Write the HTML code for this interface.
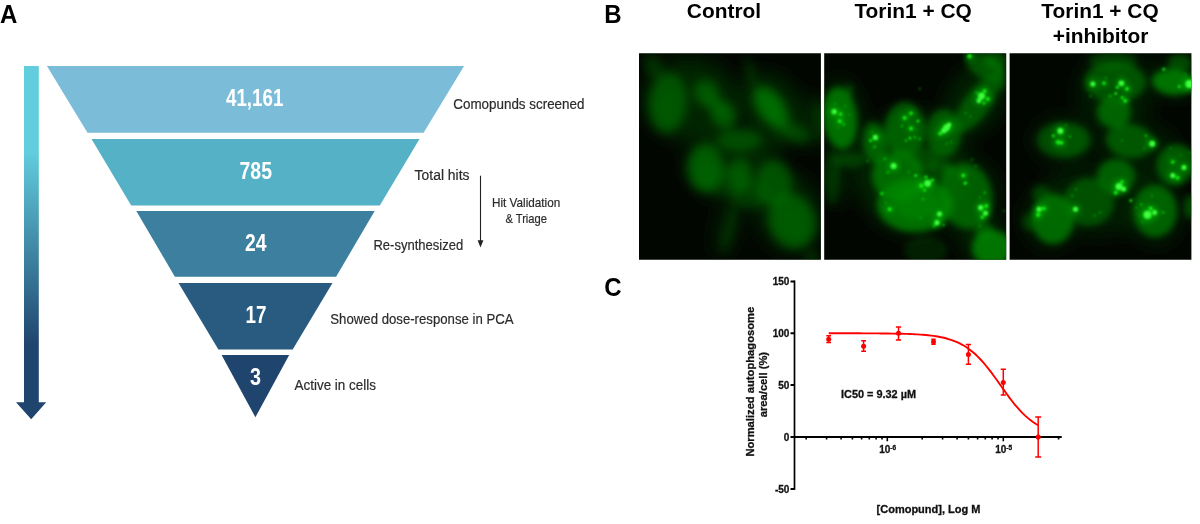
<!DOCTYPE html>
<html lang="en"><head><meta charset="utf-8"><title>Figure</title>
<style>
html,body{margin:0;padding:0;background:#fff}
svg{display:block}
text{font-family:"Liberation Sans",Arial,Helvetica,sans-serif}
.b{font-weight:bold}
.ct{font-weight:bold;fill:#111;stroke:#111;stroke-width:0.3px}
.lab{fill:#2b2b2b;stroke:#2b2b2b;stroke-width:0.2px}
.num{fill:#fff;font-weight:bold;text-anchor:middle}
</style></head><body>
<svg width="1200" height="524" viewBox="0 0 1200 524">
<defs>
<linearGradient id="bar" x1="0" y1="0" x2="0" y2="1">
<stop offset="0" stop-color="#62cedd"/><stop offset="0.24" stop-color="#62cedd"/><stop offset="0.79" stop-color="#1f446e"/><stop offset="1" stop-color="#1f446e"/>
</linearGradient>
<filter id="bl6" x="-50%" y="-50%" width="200%" height="200%"><feGaussianBlur stdDeviation="6"/></filter>
<filter id="bl5" x="-50%" y="-50%" width="200%" height="200%"><feGaussianBlur stdDeviation="4.6"/></filter>
<filter id="bl9" x="-50%" y="-50%" width="200%" height="200%"><feGaussianBlur stdDeviation="9"/></filter>
<filter id="bl4" x="-50%" y="-50%" width="200%" height="200%"><feGaussianBlur stdDeviation="3.4"/></filter>
<filter id="bl3" x="-50%" y="-50%" width="200%" height="200%"><feGaussianBlur stdDeviation="3"/></filter>
<filter id="bl1" x="-100%" y="-100%" width="300%" height="300%"><feGaussianBlur stdDeviation="1.1"/></filter>
<clipPath id="c1"><rect x="639" y="53.3" width="181.9" height="206.5"/></clipPath>
<clipPath id="c2"><rect x="824.2" y="53.3" width="182" height="206.5"/></clipPath>
<clipPath id="c3"><rect x="1009.6" y="53.3" width="181.8" height="206.5"/></clipPath>
</defs>
<rect width="1200" height="524" fill="#fff"/>

<text class="b" font-size="24" transform="translate(0 22.7) scale(1 1.06)">A</text>
<path d="M24 66H38.8V402.2H46.2L31.2 419.2L16 402.2H24Z" fill="url(#bar)"/>
<polygon points="46.9,66 464.1,66 423.6,132.8 87.5,132.8" fill="#7bbdd9"/>
<polygon points="91.5,139.1 419.5,139.1 379.8,205.6 131.2,205.6" fill="#55b1c5"/>
<polygon points="136.3,211.1 374.7,211.1 336.1,276.7 174.9,276.7" fill="#3c7f9e"/>
<polygon points="178.5,283 332.5,283 292.7,349.5 218.4,349.5" fill="#295b80"/>
<polygon points="221.6,355 289.2,355 255.4,417.2" fill="#1f446e"/>
<text class="num" x="254.65" y="106" font-size="23.6" textLength="57.3" lengthAdjust="spacingAndGlyphs">41,161</text>
<text class="num" x="255.75" y="178.5" font-size="23.6" textLength="32.5" lengthAdjust="spacingAndGlyphs">785</text>
<text class="num" x="255.75" y="250.5" font-size="23.6" textLength="21.5" lengthAdjust="spacingAndGlyphs">24</text>
<text class="num" x="256" y="323" font-size="23.6" textLength="21" lengthAdjust="spacingAndGlyphs">17</text>
<text class="num" x="255.5" y="385" font-size="23.6" textLength="11" lengthAdjust="spacingAndGlyphs">3</text>
<text class="lab" x="453.3" y="108.6" font-size="15.4" textLength="131.1" lengthAdjust="spacingAndGlyphs">Comopunds screened</text>
<text class="lab" x="414.6" y="179.9" font-size="15.4" textLength="54.9" lengthAdjust="spacingAndGlyphs">Total hits</text>
<text class="lab" x="373.4" y="250.4" font-size="15.4" textLength="89.8" lengthAdjust="spacingAndGlyphs">Re-synthesized</text>
<text class="lab" x="330.3" y="323.6" font-size="15.4" textLength="183.3" lengthAdjust="spacingAndGlyphs">Showed dose-response in PCA</text>
<text class="lab" x="294.5" y="390.4" font-size="15.4" textLength="81.5" lengthAdjust="spacingAndGlyphs">Active in cells</text>
<text class="lab" x="492" y="207.4" font-size="13" textLength="68.2" lengthAdjust="spacingAndGlyphs">Hit Validation</text>
<text class="lab" x="505.4" y="222.6" font-size="13" textLength="41.6" lengthAdjust="spacingAndGlyphs">&amp; Triage</text>
<path d="M480.5 175.7V242" stroke="#222" stroke-width="1.1" fill="none"/><path d="M477.6 240.3H483.4L480.5 247.5Z" fill="#222"/>
<text class="b" font-size="24" transform="translate(604.3 22.6) scale(1 1.06)">B</text>
<text class="b" x="724" y="17.8" font-size="20.9" text-anchor="middle">Control</text>
<text class="b" x="913.1" y="17.8" font-size="20.9" text-anchor="middle">Torin1 + CQ</text>
<text class="b" x="1100" y="17.8" font-size="20.9" text-anchor="middle">Torin1 + CQ</text>
<text class="b" x="1100.6" y="43" font-size="20.9" text-anchor="middle">+inhibitor</text>
<g clip-path="url(#c1)"><rect x="638.2" y="52" width="183.8" height="209" fill="#020601"/>
<g filter="url(#bl9)">
<ellipse cx="690" cy="100" rx="48" ry="42" transform="rotate(0 690 100)" fill="#003400" opacity="0.65"/>
<ellipse cx="772" cy="110" rx="30" ry="40" transform="rotate(-30 772 110)" fill="#003400" opacity="0.65"/>
<ellipse cx="732" cy="166" rx="46" ry="34" transform="rotate(0 732 166)" fill="#003400" opacity="0.7"/>
<ellipse cx="788" cy="212" rx="32" ry="42" transform="rotate(-20 788 212)" fill="#003400" opacity="0.65"/>
<ellipse cx="727" cy="228" rx="12" ry="30" transform="rotate(14 727 228)" fill="#003000" opacity="0.45"/>
<ellipse cx="814" cy="122" rx="10" ry="30" transform="rotate(0 814 122)" fill="#003000" opacity="0.5"/>
</g>
<g filter="url(#bl5)">
<ellipse cx="668" cy="103" rx="19" ry="30" transform="rotate(5 668 103)" fill="#006c00" opacity="0.64"/>
<ellipse cx="667" cy="108" rx="11" ry="17" transform="rotate(5 667 108)" fill="#006c00" opacity="0.22"/>
<ellipse cx="653" cy="66" rx="9" ry="13" transform="rotate(-25 653 66)" fill="#006c00" opacity="0.35"/>
<ellipse cx="706" cy="93" rx="12" ry="14" transform="rotate(-30 706 93)" fill="#006c00" opacity="0.66"/>
<ellipse cx="724" cy="115" rx="12" ry="14" transform="rotate(-30 724 115)" fill="#006c00" opacity="0.7"/>
<ellipse cx="715" cy="104" rx="8" ry="14" transform="rotate(-38 715 104)" fill="#006c00" opacity="0.5"/>
<ellipse cx="771" cy="107.5" rx="13" ry="24" transform="rotate(-35 771 107.5)" fill="#007a00" opacity="0.78"/>
<ellipse cx="772" cy="110" rx="7" ry="13" transform="rotate(-35 772 110)" fill="#007a00" opacity="0.25"/>
<ellipse cx="784" cy="128" rx="9" ry="10" transform="rotate(0 784 128)" fill="#006c00" opacity="0.35"/>
<ellipse cx="750" cy="72" rx="5" ry="16" transform="rotate(-15 750 72)" fill="#006c00" opacity="0.3"/>
<ellipse cx="739" cy="140" rx="22" ry="11" transform="rotate(0 739 140)" fill="#006c00" opacity="0.58"/>
<ellipse cx="798" cy="134" rx="13" ry="9" transform="rotate(20 798 134)" fill="#006c00" opacity="0.5"/>
<ellipse cx="705.5" cy="168" rx="18" ry="24" transform="rotate(0 705.5 168)" fill="#007400" opacity="0.66"/>
<ellipse cx="704" cy="166" rx="9" ry="13" transform="rotate(0 704 166)" fill="#007400" opacity="0.2"/>
<ellipse cx="740" cy="175" rx="12" ry="17" transform="rotate(0 740 175)" fill="#006c00" opacity="0.62"/>
<ellipse cx="774" cy="183" rx="18" ry="23" transform="rotate(0 774 183)" fill="#006c00" opacity="0.64"/>
<ellipse cx="724" cy="180" rx="28" ry="14" transform="rotate(0 724 180)" fill="#006c00" opacity="0.3"/>
<ellipse cx="750" cy="196" rx="20" ry="13" transform="rotate(0 750 196)" fill="#006c00" opacity="0.4"/>
<ellipse cx="792" cy="221" rx="23" ry="28" transform="rotate(-22 792 221)" fill="#007400" opacity="0.62"/>
<ellipse cx="793" cy="223" rx="12" ry="16" transform="rotate(-22 793 223)" fill="#007a00" opacity="0.12"/>
<ellipse cx="729" cy="229" rx="5" ry="25" transform="rotate(14 729 229)" fill="#006c00" opacity="0.3"/>
<ellipse cx="819" cy="121" rx="4" ry="22" transform="rotate(-5 819 121)" fill="#006c00" opacity="0.45"/>
<ellipse cx="812" cy="257" rx="8" ry="6" transform="rotate(0 812 257)" fill="#006c00" opacity="0.4"/>
</g>
</g>
<g clip-path="url(#c2)"><rect x="823.5" y="52" width="183.5" height="209" fill="#020601"/>
<g filter="url(#bl9)">
<ellipse cx="842" cy="118" rx="22" ry="40" transform="rotate(-6 842 118)" fill="#003400" opacity="0.55"/>
<ellipse cx="912" cy="172" rx="56" ry="62" transform="rotate(0 912 172)" fill="#003600" opacity="0.6"/>
<ellipse cx="975" cy="100" rx="28" ry="42" transform="rotate(30 975 100)" fill="#003400" opacity="0.55"/>
<ellipse cx="985" cy="242" rx="24" ry="24" transform="rotate(0 985 242)" fill="#003400" opacity="0.55"/>
<ellipse cx="836" cy="176" rx="14" ry="30" transform="rotate(0 836 176)" fill="#003000" opacity="0.5"/>
<ellipse cx="968" cy="197" rx="32" ry="40" transform="rotate(0 968 197)" fill="#003400" opacity="0.5"/>
</g>
<g filter="url(#bl4)">
<ellipse cx="840" cy="118" rx="17" ry="31" transform="rotate(-6 840 118)" fill="#008a00" opacity="0.75"/>
<ellipse cx="849" cy="91" rx="4" ry="7" transform="rotate(10 849 91)" fill="#008a00" opacity="0.4"/>
<ellipse cx="905" cy="130" rx="20" ry="28" transform="rotate(0 905 130)" fill="#008a00" opacity="0.58"/>
<ellipse cx="944" cy="133" rx="17" ry="24" transform="rotate(0 944 133)" fill="#008a00" opacity="0.56"/>
<ellipse cx="977" cy="104" rx="13" ry="34" transform="rotate(36 977 104)" fill="#008a00" opacity="0.52"/>
<ellipse cx="985" cy="66" rx="20" ry="12" transform="rotate(25 985 66)" fill="#008a00" opacity="0.52"/>
<ellipse cx="996" cy="60" rx="12" ry="9" transform="rotate(0 996 60)" fill="#008a00" opacity="0.45"/>
<ellipse cx="1001" cy="78" rx="6" ry="12" transform="rotate(0 1001 78)" fill="#008a00" opacity="0.4"/>
<ellipse cx="875" cy="143" rx="12" ry="21" transform="rotate(-8 875 143)" fill="#008a00" opacity="0.6"/>
<ellipse cx="898" cy="176" rx="26" ry="25" transform="rotate(0 898 176)" fill="#008a00" opacity="0.68"/>
<ellipse cx="915" cy="205" rx="38" ry="27" transform="rotate(0 915 205)" fill="#008a00" opacity="0.74"/>
<ellipse cx="916" cy="203" rx="22" ry="16" transform="rotate(0 916 203)" fill="#00a000" opacity="0.3"/>
<ellipse cx="966" cy="196" rx="26" ry="33" transform="rotate(-8 966 196)" fill="#008a00" opacity="0.6"/>
<ellipse cx="947.5" cy="169" rx="6" ry="6" transform="rotate(0 947.5 169)" fill="#008a00" opacity="0.35"/>
<ellipse cx="992" cy="248" rx="20" ry="18" transform="rotate(0 992 248)" fill="#008a00" opacity="0.8"/>
<ellipse cx="984" cy="231" rx="9" ry="9" transform="rotate(0 984 231)" fill="#008a00" opacity="0.5"/>
<ellipse cx="832" cy="178" rx="8" ry="27" transform="rotate(0 832 178)" fill="#008a00" opacity="0.22"/>
<ellipse cx="850" cy="160" rx="16" ry="8" transform="rotate(0 850 160)" fill="#008a00" opacity="0.3"/>
<ellipse cx="926" cy="250" rx="22" ry="13" transform="rotate(0 926 250)" fill="#008a00" opacity="0.2"/>
<ellipse cx="925" cy="160" rx="14" ry="12" transform="rotate(0 925 160)" fill="#008a00" opacity="0.35"/>
<ellipse cx="940" cy="170" rx="12" ry="12" transform="rotate(0 940 170)" fill="#008a00" opacity="0.3"/>
</g>
<g filter="url(#bl3)" fill="#00d000" opacity="0.55">
<circle cx="834.2" cy="111.7" r="4.7"/>
<circle cx="840.6" cy="114" r="3.2"/>
<circle cx="839.8" cy="121.2" r="3.6"/>
<circle cx="875.4" cy="137.4" r="4.7"/>
<circle cx="904.7" cy="118" r="3.6"/>
<circle cx="911" cy="113.3" r="3.2"/>
<circle cx="911" cy="128.5" r="3.6"/>
<circle cx="946.7" cy="127.6" r="6.1"/>
<circle cx="944" cy="130.5" r="5.0"/>
<circle cx="949" cy="125" r="4.3"/>
<circle cx="940.3" cy="133.5" r="3.6"/>
<circle cx="981.5" cy="96" r="6.1"/>
<circle cx="979" cy="100.7" r="4.3"/>
<circle cx="987.8" cy="99" r="3.6"/>
<circle cx="984.7" cy="91" r="3.6"/>
<circle cx="969.6" cy="56.3" r="4.0"/>
<circle cx="893.6" cy="166" r="5.4"/>
<circle cx="927.7" cy="183.3" r="6.1"/>
<circle cx="921.3" cy="185.7" r="4.0"/>
<circle cx="889.7" cy="209.3" r="3.6"/>
<circle cx="939.5" cy="214" r="4.5"/>
<circle cx="937" cy="222.7" r="4.7"/>
<circle cx="963.3" cy="175.4" r="3.6"/>
<circle cx="980.7" cy="207.7" r="4.7"/>
<circle cx="986.2" cy="206" r="3.6"/>
<circle cx="985.5" cy="213.2" r="4.5"/>
<circle cx="982.3" cy="217.2" r="3.2"/>
</g>
<g filter="url(#bl1)">
<circle cx="834.2" cy="111.7" r="2.6" fill="#3cff3c" opacity="1"/>
<circle cx="840.6" cy="114" r="1.8" fill="#14ee14" opacity="0.95"/>
<circle cx="839.8" cy="121.2" r="2.0" fill="#14ee14" opacity="0.95"/>
<circle cx="843.7" cy="124.4" r="1.4" fill="#00d400" opacity="0.85"/>
<circle cx="845.3" cy="106.2" r="1.1" fill="#00c000" opacity="0.7"/>
<circle cx="849.3" cy="115" r="1.0" fill="#00c000" opacity="0.7"/>
<circle cx="835" cy="103.8" r="1.0" fill="#00c000" opacity="0.7"/>
<circle cx="838" cy="128" r="1.0" fill="#00c000" opacity="0.7"/>
<circle cx="875.4" cy="137.4" r="2.6" fill="#3cff3c" opacity="1"/>
<circle cx="870.7" cy="140.6" r="1.5" fill="#14ee14" opacity="0.95"/>
<circle cx="874.6" cy="147" r="1.4" fill="#00d400" opacity="0.85"/>
<circle cx="872" cy="132" r="1.0" fill="#00c000" opacity="0.7"/>
<circle cx="904.7" cy="118" r="2.0" fill="#14ee14" opacity="0.95"/>
<circle cx="911" cy="113.3" r="1.8" fill="#14ee14" opacity="0.95"/>
<circle cx="918" cy="121" r="1.6" fill="#14ee14" opacity="0.95"/>
<circle cx="911" cy="128.5" r="2.0" fill="#14ee14" opacity="0.95"/>
<circle cx="902" cy="126" r="1.2" fill="#00d400" opacity="0.85"/>
<circle cx="910" cy="138" r="1.5" fill="#14ee14" opacity="0.95"/>
<circle cx="906" cy="140.6" r="1.3" fill="#00d400" opacity="0.85"/>
<circle cx="915" cy="137.4" r="1.3" fill="#00d400" opacity="0.85"/>
<circle cx="919.7" cy="139" r="1.2" fill="#00d400" opacity="0.85"/>
<circle cx="946.7" cy="127.6" r="3.4" fill="#3cff3c" opacity="1"/>
<circle cx="944" cy="130.5" r="2.8" fill="#3cff3c" opacity="1"/>
<circle cx="949" cy="125" r="2.4" fill="#3cff3c" opacity="1"/>
<circle cx="940.3" cy="133.5" r="2.0" fill="#14ee14" opacity="0.95"/>
<circle cx="946.7" cy="143.7" r="1.1" fill="#00c000" opacity="0.7"/>
<circle cx="951" cy="142" r="1.0" fill="#00c000" opacity="0.7"/>
<circle cx="981.5" cy="96" r="3.4" fill="#3cff3c" opacity="1"/>
<circle cx="979" cy="100.7" r="2.4" fill="#3cff3c" opacity="1"/>
<circle cx="987.8" cy="99" r="2.0" fill="#14ee14" opacity="0.95"/>
<circle cx="984.7" cy="91" r="2.0" fill="#14ee14" opacity="0.95"/>
<circle cx="976.7" cy="92.7" r="1.3" fill="#00d400" opacity="0.85"/>
<circle cx="970.4" cy="116.5" r="1.0" fill="#00c000" opacity="0.7"/>
<circle cx="965.7" cy="113.3" r="1.0" fill="#00c000" opacity="0.7"/>
<circle cx="984" cy="103" r="1.5" fill="#14ee14" opacity="0.95"/>
<circle cx="969.6" cy="56.3" r="2.2" fill="#14ee14" opacity="0.95"/>
<circle cx="919.7" cy="88.8" r="1.0" fill="#00c000" opacity="0.7"/>
<circle cx="893.6" cy="166" r="3.0" fill="#3cff3c" opacity="1"/>
<circle cx="888" cy="172.2" r="1.3" fill="#00d400" opacity="0.85"/>
<circle cx="885" cy="158.8" r="1.2" fill="#00d400" opacity="0.85"/>
<circle cx="867.5" cy="161" r="1.0" fill="#00c000" opacity="0.7"/>
<circle cx="908.7" cy="172.2" r="1.1" fill="#00c000" opacity="0.7"/>
<circle cx="915.8" cy="175.4" r="1.5" fill="#14ee14" opacity="0.95"/>
<circle cx="881.7" cy="193.6" r="1.5" fill="#14ee14" opacity="0.95"/>
<circle cx="927.7" cy="183.3" r="3.4" fill="#3cff3c" opacity="1"/>
<circle cx="921.3" cy="185.7" r="2.2" fill="#14ee14" opacity="0.95"/>
<circle cx="926" cy="177" r="1.6" fill="#14ee14" opacity="0.95"/>
<circle cx="924.5" cy="190" r="1.6" fill="#14ee14" opacity="0.95"/>
<circle cx="932.4" cy="180.2" r="1.6" fill="#14ee14" opacity="0.95"/>
<circle cx="923" cy="199" r="1.2" fill="#00d400" opacity="0.85"/>
<circle cx="882.5" cy="193.5" r="1.4" fill="#00d400" opacity="0.85"/>
<circle cx="889.7" cy="209.3" r="2.0" fill="#14ee14" opacity="0.95"/>
<circle cx="886" cy="203" r="1.0" fill="#00c000" opacity="0.7"/>
<circle cx="939.5" cy="214" r="2.5" fill="#3cff3c" opacity="1"/>
<circle cx="937" cy="222.7" r="2.6" fill="#3cff3c" opacity="1"/>
<circle cx="934" cy="226" r="1.4" fill="#00d400" opacity="0.85"/>
<circle cx="943.5" cy="225" r="1.3" fill="#00d400" opacity="0.85"/>
<circle cx="921" cy="218" r="1.0" fill="#00c000" opacity="0.7"/>
<circle cx="963.3" cy="175.4" r="2.0" fill="#14ee14" opacity="0.95"/>
<circle cx="965" cy="183.3" r="1.5" fill="#14ee14" opacity="0.95"/>
<circle cx="976" cy="166" r="1.1" fill="#00c000" opacity="0.7"/>
<circle cx="972" cy="159.6" r="1.0" fill="#00c000" opacity="0.7"/>
<circle cx="984.7" cy="192.8" r="1.2" fill="#00d400" opacity="0.85"/>
<circle cx="980" cy="197.6" r="1.1" fill="#00c000" opacity="0.7"/>
<circle cx="965.7" cy="183" r="1.6" fill="#14ee14" opacity="0.95"/>
<circle cx="980.7" cy="207.7" r="2.6" fill="#3cff3c" opacity="1"/>
<circle cx="986.2" cy="206" r="2.0" fill="#14ee14" opacity="0.95"/>
<circle cx="985.5" cy="213.2" r="2.5" fill="#3cff3c" opacity="1"/>
<circle cx="982.3" cy="217.2" r="1.8" fill="#14ee14" opacity="0.95"/>
<circle cx="980" cy="226" r="1.1" fill="#00c000" opacity="0.7"/>
<circle cx="1003.7" cy="211" r="0.9" fill="#00c000" opacity="0.7"/>
</g>
</g>
<g clip-path="url(#c3)"><rect x="1008.5" y="52" width="184" height="209" fill="#020601"/>
<g filter="url(#bl9)">
<ellipse cx="1115" cy="92" rx="38" ry="42" transform="rotate(0 1115 92)" fill="#003400" opacity="0.45"/>
<ellipse cx="1175" cy="78" rx="26" ry="20" transform="rotate(0 1175 78)" fill="#003400" opacity="0.45"/>
<ellipse cx="1064" cy="140" rx="32" ry="24" transform="rotate(0 1064 140)" fill="#003400" opacity="0.45"/>
<ellipse cx="1140" cy="150" rx="42" ry="28" transform="rotate(10 1140 150)" fill="#003400" opacity="0.4"/>
<ellipse cx="1100" cy="200" rx="62" ry="36" transform="rotate(0 1100 200)" fill="#003400" opacity="0.45"/>
<ellipse cx="1050" cy="218" rx="28" ry="32" transform="rotate(0 1050 218)" fill="#003400" opacity="0.4"/>
<ellipse cx="1156" cy="212" rx="28" ry="34" transform="rotate(0 1156 212)" fill="#003400" opacity="0.4"/>
</g>
<g filter="url(#bl4)">
<ellipse cx="1115" cy="82" rx="31" ry="20" transform="rotate(0 1115 82)" fill="#007c00" opacity="0.58"/>
<ellipse cx="1113" cy="61" rx="24" ry="9" transform="rotate(0 1113 61)" fill="#007c00" opacity="0.36"/>
<ellipse cx="1114" cy="112" rx="17" ry="16" transform="rotate(0 1114 112)" fill="#007c00" opacity="0.74"/>
<ellipse cx="1173" cy="82" rx="21" ry="13" transform="rotate(5 1173 82)" fill="#007c00" opacity="0.9"/>
<ellipse cx="1180" cy="63" rx="12" ry="9" transform="rotate(0 1180 63)" fill="#007c00" opacity="0.5"/>
<ellipse cx="1064" cy="140" rx="27" ry="18" transform="rotate(0 1064 140)" fill="#007c00" opacity="0.5"/>
<ellipse cx="1068" cy="140" rx="18" ry="14" transform="rotate(0 1068 140)" fill="#007c00" opacity="0.22"/>
<ellipse cx="1130" cy="141" rx="24" ry="17" transform="rotate(8 1130 141)" fill="#007c00" opacity="0.62"/>
<ellipse cx="1176" cy="165" rx="19" ry="21" transform="rotate(20 1176 165)" fill="#007c00" opacity="0.66"/>
<ellipse cx="1116" cy="176" rx="19" ry="17" transform="rotate(0 1116 176)" fill="#007c00" opacity="0.7"/>
<ellipse cx="1089" cy="202" rx="25" ry="24" transform="rotate(0 1089 202)" fill="#007c00" opacity="0.54"/>
<ellipse cx="1053" cy="219" rx="21" ry="25" transform="rotate(0 1053 219)" fill="#007c00" opacity="0.8"/>
<ellipse cx="1041" cy="194" rx="9" ry="9" transform="rotate(0 1041 194)" fill="#007c00" opacity="0.4"/>
<ellipse cx="1030" cy="222" rx="8" ry="9" transform="rotate(0 1030 222)" fill="#007c00" opacity="0.4"/>
<ellipse cx="1155" cy="211" rx="22" ry="26" transform="rotate(0 1155 211)" fill="#007c00" opacity="0.72"/>
<ellipse cx="1190" cy="207" rx="6" ry="12" transform="rotate(0 1190 207)" fill="#007c00" opacity="0.55"/>
</g>
<g filter="url(#bl3)" fill="#00d000" opacity="0.55">
<circle cx="1092.9" cy="84" r="4.5"/>
<circle cx="1104" cy="83.2" r="3.2"/>
<circle cx="1121.4" cy="83.2" r="5.0"/>
<circle cx="1127" cy="88.8" r="3.6"/>
<circle cx="1125.3" cy="100.7" r="3.6"/>
<circle cx="1189.5" cy="84" r="7.2"/>
<circle cx="1060.4" cy="131" r="5.4"/>
<circle cx="1058" cy="142.2" r="4.0"/>
<circle cx="1061.5" cy="142.8" r="3.6"/>
<circle cx="1152.2" cy="143.7" r="5.4"/>
<circle cx="1172.8" cy="175.4" r="4.5"/>
<circle cx="1177.6" cy="177.8" r="3.6"/>
<circle cx="1184" cy="167.5" r="4.5"/>
<circle cx="1172.8" cy="162" r="3.2"/>
<circle cx="1119" cy="186.5" r="6.3"/>
<circle cx="1123.7" cy="188.9" r="4.5"/>
<circle cx="1115.8" cy="192.8" r="3.6"/>
<circle cx="1122" cy="181.7" r="3.2"/>
<circle cx="1075.5" cy="209.3" r="4.5"/>
<circle cx="1039" cy="209.3" r="4.5"/>
<circle cx="1043.8" cy="208.5" r="3.6"/>
<circle cx="1038.2" cy="214.8" r="4.0"/>
<circle cx="1147.5" cy="214.8" r="7.2"/>
<circle cx="1154.6" cy="212.5" r="4.5"/>
<circle cx="1150.7" cy="208.5" r="3.6"/>
</g>
<g filter="url(#bl1)">
<circle cx="1092.9" cy="84" r="2.5" fill="#3cff3c" opacity="1"/>
<circle cx="1104" cy="83.2" r="1.8" fill="#14ee14" opacity="0.95"/>
<circle cx="1121.4" cy="83.2" r="2.8" fill="#3cff3c" opacity="1"/>
<circle cx="1117.4" cy="87.2" r="1.6" fill="#14ee14" opacity="0.95"/>
<circle cx="1127" cy="88.8" r="2.0" fill="#14ee14" opacity="0.95"/>
<circle cx="1115.8" cy="93.5" r="1.5" fill="#14ee14" opacity="0.95"/>
<circle cx="1122.2" cy="97.5" r="1.5" fill="#14ee14" opacity="0.95"/>
<circle cx="1125.3" cy="100.7" r="2.0" fill="#14ee14" opacity="0.95"/>
<circle cx="1110.3" cy="96" r="1.2" fill="#00d400" opacity="0.85"/>
<circle cx="1090.5" cy="96" r="1.0" fill="#00c000" opacity="0.7"/>
<circle cx="1106" cy="78" r="1.0" fill="#00c000" opacity="0.7"/>
<circle cx="1163.8" cy="69.3" r="1.5" fill="#14ee14" opacity="0.95"/>
<circle cx="1189.5" cy="84" r="4.0" fill="#3cff3c" opacity="1"/>
<circle cx="1179.2" cy="86.4" r="1.5" fill="#14ee14" opacity="0.95"/>
<circle cx="1185.5" cy="74.5" r="1.0" fill="#00c000" opacity="0.7"/>
<circle cx="1060.4" cy="131" r="3.0" fill="#3cff3c" opacity="1"/>
<circle cx="1058" cy="142.2" r="2.2" fill="#14ee14" opacity="0.95"/>
<circle cx="1061.5" cy="142.8" r="2.0" fill="#14ee14" opacity="0.95"/>
<circle cx="1053.3" cy="135.8" r="1.5" fill="#14ee14" opacity="0.95"/>
<circle cx="1070" cy="136.6" r="1.2" fill="#00d400" opacity="0.85"/>
<circle cx="1066" cy="125" r="1.0" fill="#00c000" opacity="0.7"/>
<circle cx="1152.2" cy="143.7" r="3.0" fill="#3cff3c" opacity="1"/>
<circle cx="1146" cy="135.8" r="1.4" fill="#00d400" opacity="0.85"/>
<circle cx="1144" cy="148.5" r="1.0" fill="#00c000" opacity="0.7"/>
<circle cx="1122" cy="140.6" r="1.0" fill="#00c000" opacity="0.7"/>
<circle cx="1172.8" cy="175.4" r="2.5" fill="#3cff3c" opacity="1"/>
<circle cx="1177.6" cy="177.8" r="2.0" fill="#14ee14" opacity="0.95"/>
<circle cx="1184" cy="167.5" r="2.5" fill="#3cff3c" opacity="1"/>
<circle cx="1172.8" cy="162" r="1.8" fill="#14ee14" opacity="0.95"/>
<circle cx="1180.7" cy="155.6" r="1.0" fill="#00c000" opacity="0.7"/>
<circle cx="1189.5" cy="152.5" r="1.0" fill="#00c000" opacity="0.7"/>
<circle cx="1170.5" cy="147.7" r="1.0" fill="#00c000" opacity="0.7"/>
<circle cx="1119" cy="186.5" r="3.5" fill="#3cff3c" opacity="1"/>
<circle cx="1123.7" cy="188.9" r="2.5" fill="#3cff3c" opacity="1"/>
<circle cx="1115.8" cy="192.8" r="2.0" fill="#14ee14" opacity="0.95"/>
<circle cx="1122" cy="181.7" r="1.8" fill="#14ee14" opacity="0.95"/>
<circle cx="1130.9" cy="200.6" r="1.5" fill="#14ee14" opacity="0.95"/>
<circle cx="1136.4" cy="207.7" r="1.0" fill="#00c000" opacity="0.7"/>
<circle cx="1141.2" cy="204.5" r="1.3" fill="#00d400" opacity="0.85"/>
<circle cx="1075.5" cy="209.3" r="2.5" fill="#3cff3c" opacity="1"/>
<circle cx="1072.3" cy="195.8" r="1.1" fill="#00c000" opacity="0.7"/>
<circle cx="1094.5" cy="215.6" r="1.1" fill="#00c000" opacity="0.7"/>
<circle cx="1100" cy="212.5" r="1.1" fill="#00c000" opacity="0.7"/>
<circle cx="1076" cy="189.5" r="1.0" fill="#00c000" opacity="0.7"/>
<circle cx="1039" cy="209.3" r="2.5" fill="#3cff3c" opacity="1"/>
<circle cx="1043.8" cy="208.5" r="2.0" fill="#14ee14" opacity="0.95"/>
<circle cx="1038.2" cy="214.8" r="2.2" fill="#14ee14" opacity="0.95"/>
<circle cx="1147.5" cy="214.8" r="4.0" fill="#3cff3c" opacity="1"/>
<circle cx="1154.6" cy="212.5" r="2.5" fill="#3cff3c" opacity="1"/>
<circle cx="1150.7" cy="208.5" r="2.0" fill="#14ee14" opacity="0.95"/>
<circle cx="1163.3" cy="212.5" r="1.3" fill="#00d400" opacity="0.85"/>
<circle cx="1142.7" cy="222" r="1.0" fill="#00c000" opacity="0.7"/>
<circle cx="1152" cy="196" r="1.0" fill="#00c000" opacity="0.7"/>
</g>
</g>
<text class="b" font-size="24" transform="translate(604.3 295.8) scale(1 1.04)">C</text>
<path d="M794.5 280.45000000000005V489.85" stroke="#000" stroke-width="1.7" fill="none"/>
<path d="M793.5 437.0H1061.7" stroke="#000" stroke-width="2.2" fill="none"/>
<path d="M790.5 281.5H794.5M790.5 333.3H794.5M790.5 385.1H794.5M790.5 437.0H794.5M790.5 488.9H794.5" stroke="#000" stroke-width="2" fill="none"/>
<path d="M806.2 437.0v2.6M826.6 437.0v2.6M841.1 437.0v2.6M852.4 437.0v2.6M861.6 437.0v2.6M869.3 437.0v2.6M876.1 437.0v2.6M882.0 437.0v2.6M887.3 437.0v4.2M922.2 437.0v2.6M942.6 437.0v2.6M957.1 437.0v2.6M968.4 437.0v2.6M977.6 437.0v2.6M985.3 437.0v2.6M992.1 437.0v2.6M998.0 437.0v2.6M1003.3 437.0v4.2M1038.2 437.0v2.6M1058.6 437.0v2.6" stroke="#000" stroke-width="1.6" fill="none"/>
<text class="ct" x="789.4" y="285.4" font-size="10" text-anchor="end">150</text>
<text class="ct" x="789.4" y="337.2" font-size="10" text-anchor="end">100</text>
<text class="ct" x="789.4" y="389.0" font-size="10" text-anchor="end">50</text>
<text class="ct" x="789.4" y="440.9" font-size="10" text-anchor="end">0</text>
<text class="ct" x="789.4" y="492.8" font-size="10" text-anchor="end">-50</text>
<text class="ct" x="879.2" y="452.8" font-size="10">10<tspan font-size="6.5" dy="-3.2">-6</tspan></text>
<text class="ct" x="995.2" y="452.8" font-size="10">10<tspan font-size="6.5" dy="-3.2">-5</tspan></text>
<text class="ct" font-size="11.2" text-anchor="middle" transform="translate(754.1 381.7) rotate(-90)">Normalized autophagosome</text>
<text class="ct" font-size="11.2" text-anchor="middle" transform="translate(767 384.6) rotate(-90)">area/cell (%)</text>
<text class="ct" x="928.5" y="513.3" font-size="11" text-anchor="middle">[Comopund], Log M</text>
<text class="ct" x="878.5" y="397.5" font-size="10.9" text-anchor="middle">IC50 = 9.32 µM</text>
<polyline points="828.7,333.3 831.3,333.3 833.9,333.3 836.6,333.3 839.2,333.3 841.8,333.3 844.4,333.3 847.0,333.3 849.7,333.3 852.3,333.3 854.9,333.3 857.5,333.3 860.1,333.3 862.7,333.4 865.4,333.4 868.0,333.4 870.6,333.4 873.2,333.4 875.8,333.4 878.5,333.4 881.1,333.5 883.7,333.5 886.3,333.5 888.9,333.5 891.6,333.6 894.2,333.6 896.8,333.7 899.4,333.7 902.0,333.8 904.7,333.9 907.3,333.9 909.9,334.0 912.5,334.1 915.1,334.3 917.7,334.4 920.4,334.6 923.0,334.8 925.6,335.0 928.2,335.3 930.8,335.6 933.5,335.9 936.1,336.3 938.7,336.7 941.3,337.3 943.9,337.8 946.6,338.5 949.2,339.3 951.8,340.1 954.4,341.1 957.0,342.2 959.7,343.4 962.3,344.8 964.9,346.3 967.5,348.0 970.1,349.9 972.7,352.0 975.4,354.3 978.0,356.8 980.6,359.5 983.2,362.4 985.8,365.5 988.5,368.8 991.1,372.2 993.7,375.7 996.3,379.3 998.9,383.0 1001.6,386.7 1004.2,390.4 1006.8,394.0 1009.4,397.6 1012.0,401.0 1014.6,404.3 1017.3,407.4 1019.9,410.3 1022.5,413.1 1025.1,415.6 1027.7,417.9 1030.4,420.1 1033.0,422.0 1035.6,423.7 1038.2,425.3" fill="none" stroke="#f00" stroke-width="1.9"/>
<circle cx="828.7" cy="339.2" r="2.5" fill="#f00"/>
<circle cx="863.6" cy="346.2" r="2.5" fill="#f00"/>
<circle cx="898.5" cy="333.3" r="2.5" fill="#f00"/>
<circle cx="933.5" cy="341.7" r="2.5" fill="#f00"/>
<circle cx="968.4" cy="354.5" r="2.5" fill="#f00"/>
<circle cx="1003.3" cy="382.5" r="2.5" fill="#f00"/>
<circle cx="1038.2" cy="437" r="2.5" fill="#f00"/>
<path d="M828.7 335.8V342.5M826.3 335.8h4.8M826.3 342.5h4.8M863.6 340.8V351.2M861.2 340.8h4.8M861.2 351.2h4.8M898.5 327V340M895.9 327h5.2M895.9 340h5.2M933.5 339.3V344.2M931.3 339.3h4.4M931.3 344.2h4.4M968.4 344.5V364.2M965.8 344.5h5.2M965.8 364.2h5.2M1003.3 369.2V395M1000.7 369.2h5.2M1000.7 395h5.2M1038.2 417V457M1035.2 417h6M1035.2 457h6" stroke="#f00" stroke-width="1.5" fill="none"/>
</svg></body></html>
